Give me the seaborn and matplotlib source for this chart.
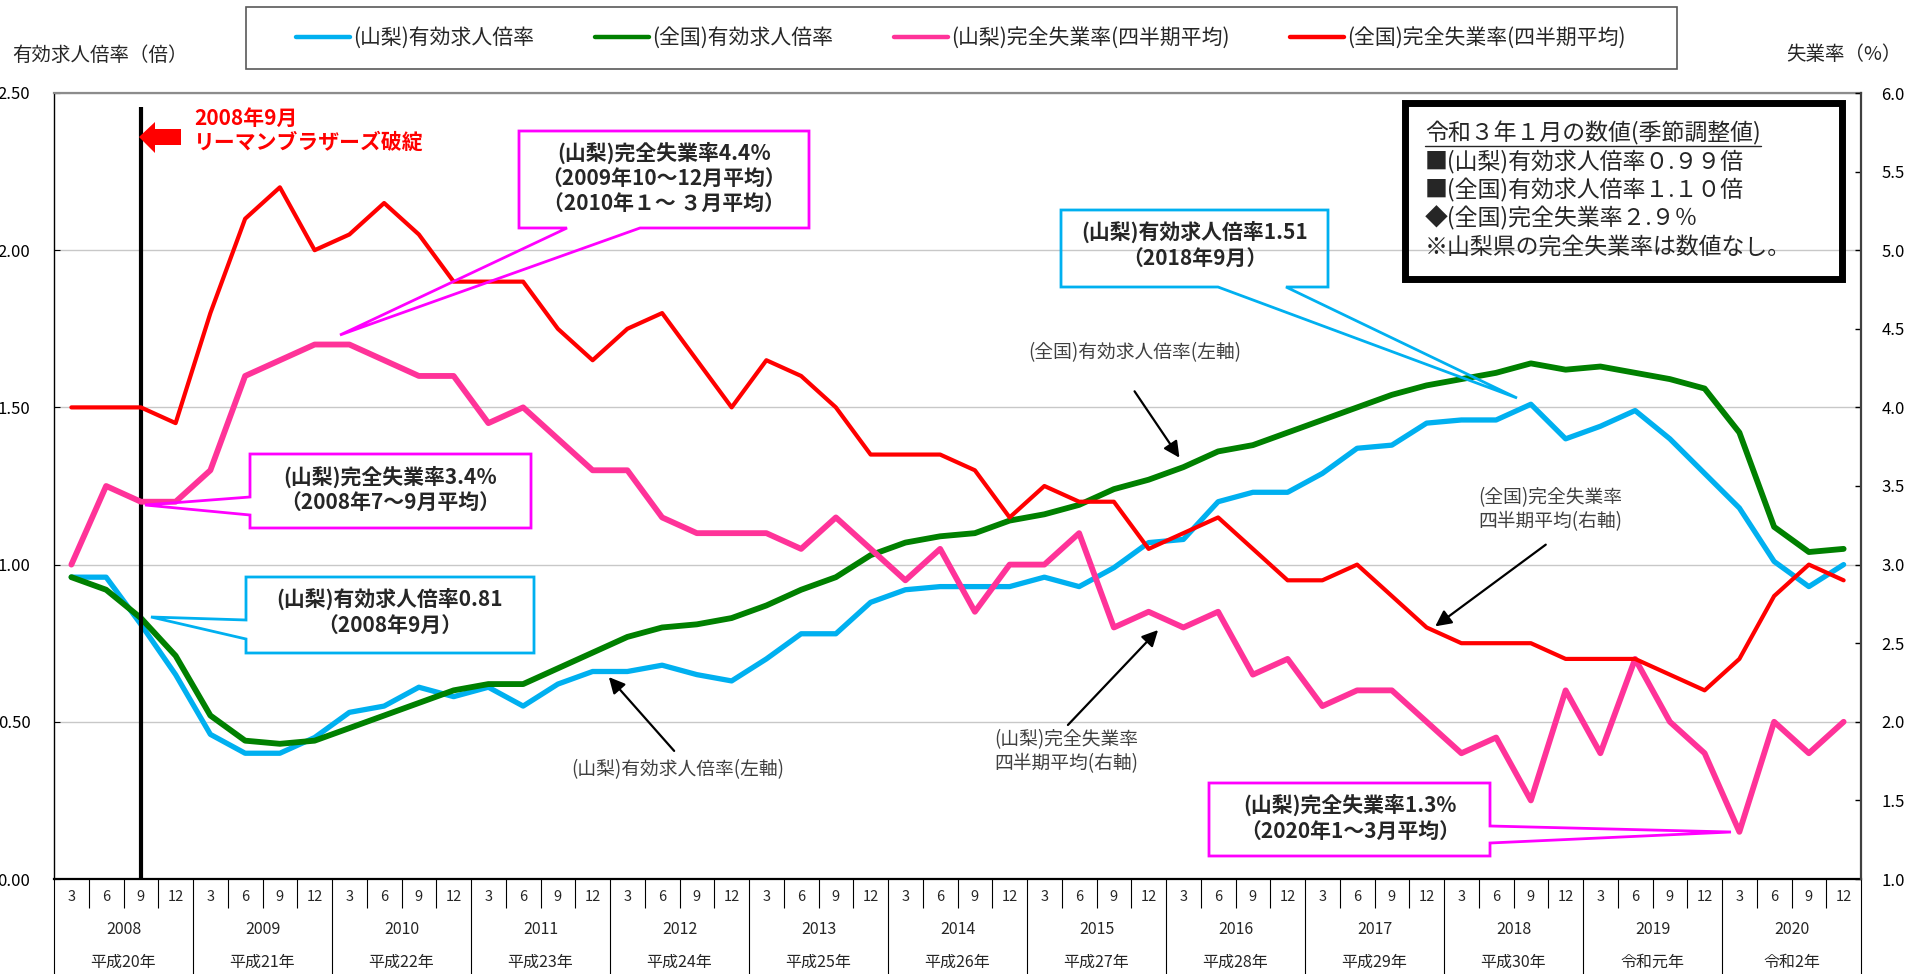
import numpy as np
import pandas as pd
import matplotlib.pyplot as plt
import seaborn as sns
from matplotlib.patches import Polygon, Rectangle
from matplotlib.lines import Line2D

# ===== DATA (quarter ends, 2008/3 - 2020/12) =====
years = list(range(2008, 2021))
months = [3, 6, 9, 12]
eras = ['平成20年', '平成21年', '平成22年', '平成23年', '平成24年', '平成25年', '平成26年',
        '平成27年', '平成28年', '平成29年', '平成30年', '令和元年', '令和2年']

# 有効求人倍率 (left axis, 倍)
yamanashi_ratio = [0.96, 0.96, 0.81, 0.65, 0.46, 0.40, 0.40, 0.45,
                   0.53, 0.55, 0.61, 0.58, 0.61, 0.55, 0.62, 0.66,
                   0.66, 0.68, 0.65, 0.63, 0.70, 0.78, 0.78, 0.88,
                   0.92, 0.93, 0.93, 0.93, 0.96, 0.93, 0.99, 1.07,
                   1.08, 1.20, 1.23, 1.23, 1.29, 1.37, 1.38, 1.45,
                   1.46, 1.46, 1.51, 1.40, 1.44, 1.49, 1.40, 1.29,
                   1.18, 1.01, 0.93, 1.00]
national_ratio = [0.96, 0.92, 0.83, 0.71, 0.52, 0.44, 0.43, 0.44,
                  0.48, 0.52, 0.56, 0.60, 0.62, 0.62, 0.67, 0.72,
                  0.77, 0.80, 0.81, 0.83, 0.87, 0.92, 0.96, 1.03,
                  1.07, 1.09, 1.10, 1.14, 1.16, 1.19, 1.24, 1.27,
                  1.31, 1.36, 1.38, 1.42, 1.46, 1.50, 1.54, 1.57,
                  1.59, 1.61, 1.64, 1.62, 1.63, 1.61, 1.59, 1.56,
                  1.42, 1.12, 1.04, 1.05]

# 完全失業率 四半期平均 (right axis, %)
yamanashi_unemp = [3.0, 3.5, 3.4, 3.4, 3.6, 4.2, 4.3, 4.4,
                   4.4, 4.3, 4.2, 4.2, 3.9, 4.0, 3.8, 3.6,
                   3.6, 3.3, 3.2, 3.2, 3.2, 3.1, 3.3, 3.1,
                   2.9, 3.1, 2.7, 3.0, 3.0, 3.2, 2.6, 2.7,
                   2.6, 2.7, 2.3, 2.4, 2.1, 2.2, 2.2, 2.0,
                   1.8, 1.9, 1.5, 2.2, 1.8, 2.4, 2.0, 1.8,
                   1.3, 2.0, 1.8, 2.0]
national_unemp = [4.0, 4.0, 4.0, 3.9, 4.6, 5.2, 5.4, 5.0,
                  5.1, 5.3, 5.1, 4.8, 4.8, 4.8, 4.5, 4.3,
                  4.5, 4.6, 4.3, 4.0, 4.3, 4.2, 4.0, 3.7,
                  3.7, 3.7, 3.6, 3.3, 3.5, 3.4, 3.4, 3.1,
                  3.2, 3.3, 3.1, 2.9, 2.9, 3.0, 2.8, 2.6,
                  2.5, 2.5, 2.5, 2.4, 2.4, 2.4, 2.3, 2.2,
                  2.4, 2.8, 3.0, 2.9]

series_names = ['(山梨)有効求人倍率', '(全国)有効求人倍率',
                '(山梨)完全失業率(四半期平均)', '(全国)完全失業率(四半期平均)']
colors = ['#00B0F0', '#008000', '#FF3399', '#FF0000']

info_lines = ['令和３年１月の数値(季節調整値)',
              '■(山梨)有効求人倍率０.９９倍',
              '■(全国)有効求人倍率１.１０倍',
              '◆(全国)完全失業率２.９％',
              '※山梨県の完全失業率は数値なし。']

df = pd.DataFrame({'year': np.repeat(years, 4), 'month': months * len(years)})
df['q'] = np.arange(len(df))
df['yr'] = yamanashi_ratio
df['nr'] = national_ratio
df['yu'] = yamanashi_unemp
df['nu'] = national_unemp
lehman_q = df.loc[(df.year == 2008) & (df.month == 9), 'q'].iloc[0]

sns.set_style('white')
plt.rcParams['font.family'] = ['Noto Sans CJK JP', 'DejaVu Sans']

W, H = 1911, 974
def fx(x):
    return x / W
def fy(y):
    return 1 - y / H
def pts(seq):
    return [(fx(x), fy(y)) for x, y in seq]

fig = plt.figure(figsize=(W / 100, H / 100), dpi=100)
ax = fig.add_axes([fx(54), 95 / H, (1861 - 54) / W, (879 - 93) / H])
ax2 = ax.twinx()

sns.lineplot(data=df, x='q', y='yr', ax=ax, color=colors[0], linewidth=3.8)
sns.lineplot(data=df, x='q', y='nr', ax=ax, color=colors[1], linewidth=4.2)
sns.lineplot(data=df, x='q', y='yu', ax=ax2, color=colors[2], linewidth=4.2)
sns.lineplot(data=df, x='q', y='nu', ax=ax2, color=colors[3], linewidth=3.0)
for a in (ax, ax2):
    a.set_xlabel('')
    a.set_ylabel('')

ax.set_xlim(-0.5, len(df) - 0.5)
ax.set_ylim(0, 2.5)
ax2.set_ylim(1, 6)
lt = np.arange(0, 2.51, 0.5)
ax.set_yticks(lt, labels=[f'{v:.2f}' for v in lt])
rt = np.arange(1, 6.01, 0.5)
ax2.set_yticks(rt, labels=[f'{v:.1f}' for v in rt])
ax.yaxis.grid(True, color='#C8C8C8', linewidth=1.0)
ax.xaxis.grid(False)
ax.tick_params(axis='y', direction='in', length=4.5, pad=17, labelsize=12, colors='black')
ax2.tick_params(axis='y', direction='in', length=4.5, width=1, pad=14.5, labelsize=12, colors='black')

ax.set_xticks(df['q'], labels=[str(m) for m in df['month']])
ax.set_xticks(np.arange(-0.5, len(df), 1), minor=True)
ax.tick_params(axis='x', which='major', length=0, pad=8, labelsize=10.5)
ax.tick_params(axis='x', which='minor', direction='in', length=4.5, width=0.8)

bounds = np.arange(-0.5, len(df), 1)
ax.vlines(bounds[::4], -0.125, 0, transform=ax.get_xaxis_transform(),
          colors='black', linewidth=0.8, clip_on=False)
ax.vlines([b for i, b in enumerate(bounds) if i % 4], -0.037, 0,
          transform=ax.get_xaxis_transform(), colors='black', linewidth=0.8, clip_on=False)
for k, (y, e) in enumerate(zip(years, eras)):
    ax.text(4 * k + 1.5, -(929 - 879) / 786, str(y), transform=ax.get_xaxis_transform(),
            ha='center', va='center', fontsize=11.5)
    ax.text(4 * k + 1.5, -(962 - 879) / 786, e, transform=ax.get_xaxis_transform(),
            ha='center', va='center', fontsize=11.5)

for s in ax.spines.values():
    s.set_color('black')
ax.spines['top'].set_color('#8C8C8C')
ax.spines['top'].set_linewidth(1.6)
ax.spines['left'].set_linewidth(1.0)
ax.spines['bottom'].set_linewidth(1.6)
ax.spines['right'].set_visible(False)
for k in ('top', 'left', 'bottom'):
    ax2.spines[k].set_visible(False)
ax2.spines['right'].set_color('#404040')
ax2.spines['right'].set_linewidth(1.6)

# Lehman line
ax.vlines(lehman_q, 0, 2.455, color='black', linewidth=3, zorder=5)

# axis titles
fig.text(fx(12), fy(55), '有効求人倍率（倍）', ha='left', va='center', fontsize=14)
fig.text(fx(1786), fy(55), '失業率（%）', ha='left', va='center', fontsize=14)

# legend
fig.add_artist(Rectangle((fx(245.5), fy(69)), (1677 - 245.5) / W, 62 / H, transform=fig.transFigure,
                         fill=False, edgecolor='#595959', linewidth=1.2))
handles = [Line2D([], [], color=c, linewidth=3.2) for c in colors]
fig.legend(handles, series_names, loc='center', bbox_to_anchor=(fx(961), fy(38)), ncol=4,
           frameon=False, fontsize=15, handlelength=2.6, handletextpad=0.15, columnspacing=2.9)

# info box
fig.add_artist(Rectangle((fx(1404.5), fy(278.5)), (1841.5 - 1404.5) / W, 176 / H,
                         transform=fig.transFigure, fill=False, edgecolor='black', linewidth=5))
info_texts = []
for line, yy in zip(info_lines, [133, 162, 190, 218, 248]):
    info_texts.append(fig.text(fx(1425), fy(yy), line, ha='left', va='center',
                               fontsize=16.5, color='#262626'))

# Lehman note
fig.add_artist(Polygon(pts([(139, 137), (155, 122), (155, 129), (181, 129), (181, 145),
                            (155, 145), (155, 153)]), closed=True, transform=fig.transFigure,
                       facecolor='#FF0000', edgecolor='none'))
fig.text(fx(194), fy(118), '2008年9月', color='#FF0000', fontsize=15, fontweight='bold', va='center')
fig.text(fx(194), fy(142), 'リーマンブラザーズ破綻', color='#FF0000', fontsize=15,
         fontweight='bold', va='center')

# callouts
def callout(poly, color, cx, cy, text):
    fig.add_artist(Polygon(pts(poly), closed=True, transform=fig.transFigure, fill=False,
                           edgecolor=color, linewidth=2))
    fig.text(fx(cx), fy(cy), text, ha='center', va='center', fontsize=15,
             fontweight='bold', linespacing=1.25)

MAG = '#FF00FF'
CYAN = '#00B0F0'
callout([(519, 131), (809, 131), (809, 228), (640, 228), (340, 335), (567, 228), (519, 228)],
        MAG, 664, 178, '(山梨)完全失業率4.4％\n（2009年10～12月平均）\n（2010年１～ ３月平均）')
callout([(250, 454), (531, 454), (531, 528), (250, 528), (250, 515), (145, 505), (250, 497)],
        MAG, 390, 489, '(山梨)完全失業率3.4％\n（2008年7～9月平均）')
callout([(246, 577), (534, 577), (534, 653), (246, 653), (246, 639), (151, 617), (246, 620)],
        CYAN, 390, 612, '(山梨)有効求人倍率0.81\n（2008年9月）')
callout([(1061, 210), (1328, 210), (1328, 287), (1286, 287), (1517, 398), (1218, 287), (1061, 287)],
        CYAN, 1195, 245, '(山梨)有効求人倍率1.51\n（2018年9月）')
callout([(1209, 783), (1490, 783), (1490, 826), (1731, 832), (1490, 843), (1490, 856), (1209, 856)],
        MAG, 1350, 818, '(山梨)完全失業率1.3%\n（2020年1～3月平均）')

# arrows with series notes
def note(text, cx, cy, tail, tip):
    fig.text(fx(cx), fy(cy), text, ha='center', va='center', fontsize=13.5,
             color='#404040', linespacing=1.2)
    ax2.annotate('', xy=(fx(tip[0]), fy(tip[1])), xycoords='figure fraction',
                 xytext=(fx(tail[0]), fy(tail[1])), textcoords='figure fraction',
                 arrowprops=dict(arrowstyle='-|>', color='black', lw=1.6, mutation_scale=24),
                 annotation_clip=False)

note('(山梨)有効求人倍率(左軸)', 678, 770, (676, 753), (607, 675))
note('(全国)有効求人倍率(左軸)', 1135, 353, (1133, 389), (1181, 460))
note('(山梨)完全失業率\n四半期平均(右軸)', 1066, 752, (1066, 727), (1160, 628))
note('(全国)完全失業率\n四半期平均(右軸)', 1550, 510, (1548, 543), (1433, 628))

# underline of the info title
fig.canvas.draw()
bb = info_texts[0].get_window_extent()
fig.add_artist(Line2D([bb.x0 / W, bb.x1 / W], [bb.y0 / H - 1 / H] * 2,
                      transform=fig.transFigure, color='#262626', linewidth=1))

fig.savefig('out.png', dpi=100)
